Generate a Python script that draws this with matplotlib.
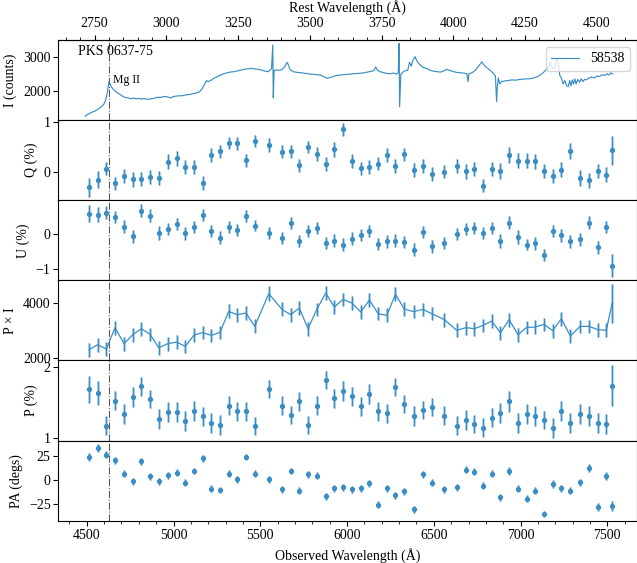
"""
Spectropolarimetry of PKS 0637-75 (MJD 58538).

Six stacked panels sharing the observed-wavelength axis:
  total flux, Q, U, polarized flux, P and position angle.
The rest-frame wavelength is shown on a secondary top axis.

Saves: out.png
"""

import matplotlib
matplotlib.use("Agg")
import matplotlib.pyplot as plt
import numpy as np
from matplotlib.ticker import MultipleLocator

plt.rcParams["font.family"] = ["Liberation Serif", "DejaVu Serif"]
plt.rcParams["font.size"] = 10
plt.rcParams["xtick.major.pad"] = 2.5
plt.rcParams["ytick.major.pad"] = 2.0

Z = 0.653
MGII_REST = 2800.0
BLUE = "#3a8ec4"

# -----------------------------------------------------------------------
# Total-flux spectrum
# -----------------------------------------------------------------------
spec_wave = [
    4491, 4500, 4515, 4530, 4545, 4560, 4575, 4590, 4600, 4608,
    4615, 4620, 4625, 4628, 4632, 4640, 4650, 4665, 4680, 4695,
    4710, 4725, 4740, 4755, 4770, 4785, 4800, 4815, 4830, 4850,
    4865, 4880, 4895, 4910, 4925, 4940, 4955, 4970, 4985, 4995,
    5010, 5030, 5050, 5070, 5090, 5110, 5130, 5150, 5165, 5180,
    5190, 5200, 5215, 5230, 5250, 5270, 5290, 5310, 5330, 5350,
    5370, 5390, 5410, 5430, 5450, 5470, 5490, 5510, 5530, 5545,
    5555, 5565, 5572, 5575, 5580, 5595, 5610, 5625, 5640, 5650,
    5656, 5662, 5672, 5690, 5710, 5730, 5750, 5770, 5790, 5810,
    5830, 5850, 5870, 5885, 5900, 5920, 5940, 5960, 5980, 6000,
    6020, 6040, 6060, 6080, 6100, 6120, 6140, 6155, 6165, 6175,
    6190, 6210, 6230, 6250, 6270, 6285, 6295, 6300, 6303, 6310,
    6325, 6340, 6350, 6360, 6370, 6380, 6392, 6400, 6411, 6425,
    6440, 6460, 6480, 6500, 6520, 6540, 6560, 6575, 6590, 6610,
    6630, 6650, 6670, 6690, 6698, 6702, 6720, 6740, 6755, 6770,
    6776, 6785, 6800, 6815, 6830, 6845, 6855, 6862, 6866, 6872,
    6880, 6891, 6910, 6930, 6950, 6970, 6990, 7010, 7030, 7050,
    7070, 7090, 7110, 7130, 7145, 7155, 7162, 7170, 7180, 7190,
    7200, 7208, 7214, 7220, 7226, 7235, 7245, 7255, 7265, 7275,
    7283, 7290, 7298, 7305, 7313, 7320, 7330, 7340, 7350, 7360,
    7370, 7380, 7395, 7410, 7425, 7440, 7455, 7470, 7485, 7500,
    7510, 7520, 7531,
]
spec_counts = [
    1255, 1290, 1330, 1372, 1398, 1442, 1500, 1558, 1620, 1720,
    1850, 1990, 2150, 2260, 2230, 2130, 2060, 1990, 1930, 1882,
    1830, 1802, 1790, 1768, 1785, 1764, 1776, 1758, 1770, 1750,
    1762, 1772, 1790, 1812, 1803, 1826, 1831, 1814, 1788, 1822,
    1840, 1852, 1855, 1878, 1889, 1912, 1930, 1972, 2060, 2200,
    2300, 2268, 2302, 2360, 2412, 2458, 2502, 2528, 2552, 2561,
    2583, 2608, 2632, 2648, 2657, 2640, 2628, 2602, 2572, 2560,
    2600, 2650, 3340, 1790, 2600, 2612, 2598, 2622, 2700, 2800,
    2830, 2750, 2620, 2562, 2540, 2532, 2518, 2502, 2490, 2482,
    2470, 2455, 2400, 2370, 2382, 2420, 2448, 2462, 2470, 2482,
    2490, 2500, 2505, 2516, 2530, 2550, 2572, 2590, 2700, 2600,
    2560, 2532, 2510, 2500, 2520, 2490, 2520, 3390, 1530, 2480,
    2560, 2600, 2600, 2840, 2720, 2900, 3000, 2900, 2810, 2740,
    2680, 2650, 2600, 2572, 2560, 2548, 2590, 2630, 2600, 2570,
    2540, 2530, 2520, 2500, 2270, 2500, 2530, 2600, 2700, 2800,
    2850, 2780, 2700, 2640, 2580, 2500, 2440, 1680, 2100, 2380,
    2200, 2270, 2290, 2300, 2320, 2310, 2330, 2340, 2350, 2352,
    2370, 2400, 2450, 2530, 2600, 2700, 2620, 2850, 2700, 2650,
    2700, 2950, 2900, 2700, 2450, 2380, 2200, 2300, 2150, 2120,
    2300, 2150, 2320, 2200, 2350, 2200, 2330, 2250, 2350, 2270,
    2340, 2320, 2380, 2400, 2380, 2430, 2420, 2470, 2450, 2500,
    2460, 2530, 2490,
]

# -----------------------------------------------------------------------
# Binned polarimetry
# -----------------------------------------------------------------------
wave = [
    4513, 4563, 4613, 4663, 4715, 4765, 4815, 4865, 4915, 4967,
    5018, 5068, 5118, 5168, 5218, 5268, 5318, 5368, 5418, 5468,
    5549, 5625, 5675, 5725, 5775, 5825, 5877, 5927, 5977, 6028,
    6079, 6129, 6179, 6229, 6279, 6330, 6384, 6436, 6488, 6561,
    6632, 6684, 6734, 6784, 6834, 6884, 6934, 6985, 7035, 7085,
    7135, 7185, 7235, 7287, 7343, 7395, 7445, 7494, 7527,
]

q_pct = [
    -0.31, -0.16, 0.06, -0.23, -0.09, -0.15, -0.15, -0.10, -0.13, 0.20,
    0.27, 0.10, 0.09, -0.22, 0.33, 0.41, 0.58, 0.57, 0.23, 0.62,
    0.54, 0.40, 0.41, 0.13, 0.50, 0.35, 0.16, 0.45, 0.86, 0.22,
    0.07, 0.09, 0.16, 0.33, 0.12, 0.35, 0.03, 0.11, -0.04, 0.00,
    0.12, 0.01, 0.05, -0.28, 0.05, 0.02, 0.33, 0.22, 0.22, 0.21,
    0.01, -0.09, 0.04, 0.42, -0.13, -0.17, 0.01, -0.06, 0.43,
]
q_err = [
    0.19, 0.17, 0.13, 0.13, 0.14, 0.15, 0.14, 0.14, 0.14, 0.15,
    0.15, 0.14, 0.14, 0.14, 0.14, 0.13, 0.13, 0.13, 0.13, 0.13,
    0.14, 0.13, 0.13, 0.13, 0.13, 0.14, 0.14, 0.15, 0.13, 0.14,
    0.13, 0.14, 0.13, 0.14, 0.14, 0.13, 0.14, 0.14, 0.14, 0.13,
    0.14, 0.15, 0.14, 0.13, 0.14, 0.16, 0.16, 0.15, 0.15, 0.15,
    0.14, 0.14, 0.15, 0.16, 0.16, 0.15, 0.14, 0.15, 0.29,
]

u_pct = [
    0.59, 0.56, 0.62, 0.49, 0.22, -0.06, 0.67, 0.53, 0.04, 0.15,
    0.29, 0.03, 0.20, 0.55, 0.09, -0.10, 0.21, 0.12, 0.52, 0.25,
    0.04, -0.11, 0.31, -0.19, 0.10, 0.19, -0.25, -0.18, -0.29, -0.12,
    -0.02, 0.09, -0.28, -0.20, -0.18, -0.22, -0.44, 0.07, -0.34, -0.26,
    0.01, 0.15, 0.18, 0.04, 0.19, -0.19, 0.33, -0.08, -0.29, -0.26,
    -0.60, 0.09, -0.03, -0.20, -0.14, 0.33, -0.37, 0.21, -0.89,
]
u_err = [
    0.25, 0.22, 0.18, 0.17, 0.18, 0.18, 0.18, 0.18, 0.19, 0.18,
    0.18, 0.18, 0.17, 0.17, 0.18, 0.18, 0.17, 0.17, 0.17, 0.17,
    0.18, 0.17, 0.17, 0.17, 0.17, 0.17, 0.18, 0.18, 0.18, 0.18,
    0.18, 0.18, 0.18, 0.18, 0.18, 0.18, 0.18, 0.18, 0.18, 0.17,
    0.17, 0.18, 0.17, 0.17, 0.17, 0.19, 0.19, 0.19, 0.17, 0.18,
    0.17, 0.17, 0.18, 0.18, 0.19, 0.18, 0.18, 0.18, 0.33,
]

pol_flux = [
    2294, 2477, 2316, 3099, 2514, 2843, 3063, 2855, 2367, 2514,
    2572, 2415, 2829, 2917, 2818, 2928, 3696, 3575, 3634, 3147,
    4344, 3769, 3575, 3817, 3063, 3758, 4366, 3854, 4135, 4000,
    3671, 4110, 3612, 3550, 4318, 3780, 3685, 3769, 3612, 3392,
    3001, 3099, 3063, 3184, 3341, 2917, 3392, 2843, 3110, 3122,
    3220, 2990, 3429, 2792, 3147, 3147, 3026, 3001, 3980,
]
pol_flux_err = [
    260, 250, 250, 260, 250, 250, 260, 250, 250, 250,
    250, 250, 250, 250, 250, 250, 260, 250, 250, 260,
    270, 260, 250, 250, 260, 250, 270, 260, 250, 250,
    250, 260, 250, 260, 260, 250, 250, 250, 250, 250,
    260, 250, 250, 250, 250, 260, 260, 260, 250, 250,
    250, 260, 260, 270, 250, 250, 250, 260, 700,
]

p_pct = [
    1.69, 1.64, 1.18, 1.53, 1.34, 1.58, 1.73, 1.55, 1.27, 1.37,
    1.37, 1.24, 1.39, 1.31, 1.21, 1.19, 1.46, 1.38, 1.38, 1.17,
    1.69, 1.46, 1.33, 1.52, 1.19, 1.46, 1.82, 1.56, 1.66, 1.59,
    1.45, 1.62, 1.38, 1.35, 1.72, 1.48, 1.32, 1.40, 1.44, 1.32,
    1.18, 1.26, 1.20, 1.15, 1.29, 1.35, 1.52, 1.21, 1.34, 1.32,
    1.26, 1.15, 1.39, 1.22, 1.34, 1.31, 1.22, 1.20, 1.74,
]
p_err = [
    0.19, 0.17, 0.13, 0.13, 0.14, 0.14, 0.13, 0.13, 0.14, 0.14,
    0.14, 0.14, 0.14, 0.13, 0.14, 0.14, 0.13, 0.13, 0.13, 0.13,
    0.13, 0.13, 0.13, 0.13, 0.13, 0.13, 0.13, 0.13, 0.14, 0.13,
    0.13, 0.14, 0.13, 0.13, 0.13, 0.13, 0.14, 0.13, 0.13, 0.13,
    0.13, 0.14, 0.13, 0.13, 0.13, 0.14, 0.15, 0.14, 0.14, 0.14,
    0.13, 0.14, 0.14, 0.14, 0.14, 0.14, 0.14, 0.14, 0.29,
]

pa_deg = [
    23.8, 33.4, 26.5, 20.7, 6.9, -1.0, 19.6, 4.1, -1.0, 5.2,
    7.9, -2.8, 9.6, 22.7, -9.0, -10.3, 6.9, 0.7, 24.1, 6.9,
    0.7, -9.3, 9.6, -11.0, 6.2, 4.5, -16.9, -8.6, -7.2, -9.6,
    -8.6, -3.4, -25.5, -8.6, -15.5, -11.7, -30.0, 5.9, -2.8, -9.6,
    -7.2, 10.7, 8.6, -5.9, 6.6, -17.9, 9.6, -9.0, -19.3, -10.7,
    -35.1, -4.1, -8.6, -10.7, -2.4, 12.7, -27.6, 4.5, -26.5,
]
pa_err = [
    4.0, 4.0, 4.0, 3.5, 3.5, 3.5, 3.5, 3.5, 3.5, 3.5,
    3.5, 3.5, 3.5, 3.5, 3.5, 3.5, 3.5, 3.5, 3.5, 3.5,
    3.5, 3.5, 3.5, 3.5, 3.5, 3.5, 3.5, 3.5, 3.5, 3.5,
    3.5, 3.5, 3.5, 3.5, 3.5, 3.5, 3.5, 3.5, 3.5, 3.5,
    3.5, 3.5, 3.5, 3.5, 3.5, 4.0, 4.0, 3.5, 3.5, 3.5,
    3.5, 4.0, 3.5, 3.5, 4.0, 4.0, 4.0, 4.0, 5.0,
]

# -----------------------------------------------------------------------
# Figure
# -----------------------------------------------------------------------
fig, axes = plt.subplots(6, 1, sharex=True, figsize=(6.37, 5.63), dpi=100)
fig.subplots_adjust(left=0.0915, right=1.0, top=0.929, bottom=0.0751,
                    hspace=0)


def points_with_errors(ax, y, yerr):
    # light wide bar underneath, thin bar and dot on top
    ax.errorbar(wave, y, yerr=yerr, fmt="none", ecolor=BLUE,
                elinewidth=2.0, alpha=0.35)
    ax.errorbar(wave, y, yerr=yerr, fmt="o", ms=2.8, color=BLUE,
                ecolor=BLUE, elinewidth=0.9)


# ---- Panel 1: total flux ----
ax = axes[0]
ax.plot(spec_wave, spec_counts, color=BLUE, lw=0.85, label="58538")
ax.set_ylim(1140, 3490)
ax.yaxis.set_major_locator(MultipleLocator(1000))
ax.set_ylabel("I (counts)")
ax.legend(loc="upper right")
ax.text(0.034, 0.855, "PKS 0637-75", transform=ax.transAxes,
        ha="left", va="center")
ax.text(4650, 2315, "Mg II", ha="left", va="center", fontsize=8.5)

top = ax.secondary_xaxis(
    "top",
    functions=(lambda x: np.asarray(x) / (1 + Z),
               lambda x: np.asarray(x) * (1 + Z)),
)
top.xaxis.set_major_locator(MultipleLocator(250))
top.xaxis.set_minor_locator(MultipleLocator(50))
top.tick_params(axis="x", which="major", pad=3.5)
top.set_xlabel("Rest Wavelength (Å)")

# ---- Panel 2: Q ----
ax = axes[1]
points_with_errors(ax, q_pct, q_err)
ax.set_ylim(-0.57, 1.04)
ax.yaxis.set_major_locator(MultipleLocator(1))
ax.set_ylabel("Q (%)")

# ---- Panel 3: U ----
ax = axes[2]
points_with_errors(ax, u_pct, u_err)
ax.set_ylim(-1.31, 0.97)
ax.yaxis.set_major_locator(MultipleLocator(1))
ax.set_ylabel("U (%)")

# ---- Panel 4: polarized flux ----
ax = axes[3]
ax.errorbar(wave, pol_flux, yerr=pol_flux_err, fmt="none", ecolor=BLUE,
            elinewidth=2.0, alpha=0.35)
ax.errorbar(wave, pol_flux, yerr=pol_flux_err, fmt="-", color=BLUE,
            lw=0.9, ecolor=BLUE, elinewidth=0.9)
ax.set_ylim(1900, 4830)
ax.yaxis.set_major_locator(MultipleLocator(2000))
ax.set_ylabel("P × I")

# ---- Panel 5: P ----
ax = axes[4]
points_with_errors(ax, p_pct, p_err)
ax.set_ylim(0.968, 2.094)
ax.yaxis.set_major_locator(MultipleLocator(1))
ax.set_ylabel("P (%)")

# ---- Panel 6: PA ----
ax = axes[5]
points_with_errors(ax, pa_deg, pa_err)
ax.set_ylim(-42, 41)
ax.yaxis.set_major_locator(MultipleLocator(25))
ax.set_ylabel("PA (degs)")
ax.set_xlabel("Observed Wavelength (Å)")

ax.set_xlim(4336, 7671)
ax.xaxis.set_major_locator(MultipleLocator(500))
ax.xaxis.set_minor_locator(MultipleLocator(100))

mgii_obs = MGII_REST * (1 + Z)
for i, ax in enumerate(axes):
    ax.axvline(mgii_obs, color="0.35", lw=0.8, ls="-.", zorder=0)
    if i < len(axes) - 1:
        ax.tick_params(axis="x", which="both", bottom=False)

fig.savefig("out.png", dpi=100)
plt.close(fig)
